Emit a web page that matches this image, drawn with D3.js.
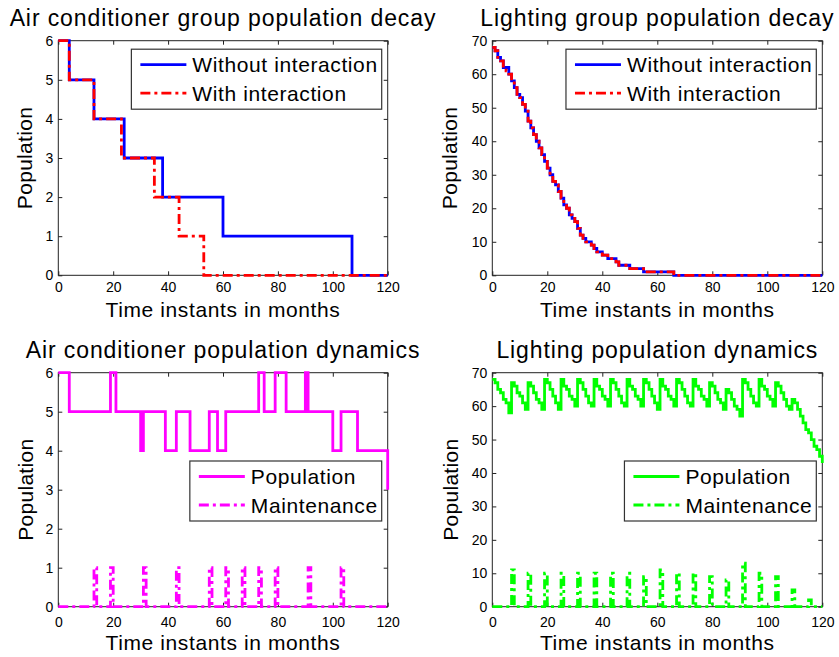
<!DOCTYPE html>
<html>
<head>
<meta charset="utf-8">
<script src="https://cdn.jsdelivr.net/npm/d3@7"></script>
<style>
body{margin:0;background:#fff;}
svg{display:block;font-family:Arial,"Liberation Sans",Helvetica,sans-serif;}
</style>
</head>
<body>
<div id="fig"></div>
<script>
//////////////////////////////////////////////////////////////////////
//Data
var xTicks = [0,20,40,60,80,100,120];
var acYTicks = [0,1,2,3,4,5,6];
var lightYTicks = [0,10,20,30,40,50,60,70];

// air conditioner group decay (change points, stairs)
var acNoIntT = [0,4,13,24,38,60,107,120];
var acNoIntV = [6,5,4,3,2,1,0,0];
var acIntT = [0,4,13,23,35,44,53,120];
var acIntV = [6,5,4,3,2,1,0,0];

// lighting group decay, one value per month from 0
var lightNoInt = [68,67,65,64,62,62,60,58,56,54,53,51,49,46,44,42,40,38,36,34,
  32,30,28,27,25,23,21,20,18,17,16,14,12,11,10,10,9,8,7,7,
  6,6,5,5,5,4,3,3,3,3,2,2,2,2,2,1,1,1,1,1,1,1,1,1,1,1,0];
var lightInt = [68,67,65,64,62,61,60,58,56,54,53,51,49,46,44,42,40,38,36,34,
  32,30,28,27,25,23,22,20,18,17,16,14,12,11,10,10,9,8,7,7,
  6,6,5,5,5,4,3,3,3,3,2,2,2,2,2,1,1,1,1,1,1,1,1,1,1,1,0];

// air conditioner dynamics (change points)
var acPopT = [0,4,19,21,30,31,39,43,48,55,58,61,73,75,79,83,90,91,100,103,109,120];
var acPopV = [6,5,6,5,4,5,4,5,4,5,4,5,6,5,6,5,6,5,4,5,4,3];
var acMaintT = [13,19,31,43,55,61,67,73,79,91,103];
var acMaintV = [1,1,1,1,1,1,1,1,1,1,1];

// lighting dynamics, one value per month from 0
var lightPop = [68,67,65,64,62,61,58,
  67,66,64,63,61,59,
  67,66,64,62,61,59,
  68,67,65,63,61,59,
  68,66,65,63,62,60,
  68,67,65,63,61,60,
  68,66,65,63,62,60,
  68,67,65,63,61,60,
  68,66,65,63,62,60,
  68,67,65,63,61,59,
  68,66,65,63,62,60,
  68,67,65,63,61,60,
  68,66,65,63,62,60,
  67,66,64,62,61,59,
  65,64,62,60,59,57,
  68,67,65,63,61,60,
  68,66,65,63,62,60,
  67,66,64,62,60,59,
  62,61,59,57,55,53,52,50,48,47,45,43];
var lightMaintT = [7,13,19,25,31,37,43,49,55,61,67,73,79,85,91,97,103,109,115];
var lightMaintV = [11,10,10,10,10,10,10,10,9,11,10,10,9,8,13,10,9,5,2];

//////////////////////////////////////////////////////////////////////
//Helpers
function stepPts(t, v){
  return t.map(function(d,i){ return [d, v[i]]; });
}
function monthPts(v, endT){
  var p = v.map(function(d,i){ return [i, d]; });
  if(endT != null && p[p.length-1][0] < endT){ p.push([endT, v[v.length-1]]); }
  return p;
}
function spikePts(t, v, endT){
  var p = [[0,0]];
  t.forEach(function(d,i){ p.push([d, v[i]]); p.push([d+1, 0]); });
  p.push([endT, 0]);
  return p;
}

var svg = d3.select("#fig").append("svg")
  .attr("width", 839)
  .attr("height", 657);
svg.append("rect").attr("width",839).attr("height",657).attr("fill","#fff");

var DASHDOT = "10,4,3,4";

function drawPanel(p){
  var x = d3.scaleLinear().domain([0,120]).range([p.left, p.right]);
  var y = d3.scaleLinear().domain([0, p.yMax]).range([p.bottom, p.top]);
  var g = svg.append("g");

  //axes, ticks inside on all sides
  var ax = [
    [d3.axisBottom(x).tickValues(xTicks).tickFormat(d3.format("d")).tickPadding(p.xPad), "translate(0,"+p.bottom+")"],
    [d3.axisTop(x).tickValues(xTicks).tickFormat(""), "translate(0,"+p.top+")"],
    [d3.axisLeft(y).tickValues(p.yTicks).tickFormat(d3.format("d")).tickPadding(5), "translate("+p.left+",0)"],
    [d3.axisRight(y).tickValues(p.yTicks).tickFormat(""), "translate("+p.right+",0)"]
  ];
  ax.forEach(function(a){
    var s = g.append("g").attr("transform", a[1])
      .call(a[0].tickSizeInner(-4).tickSizeOuter(0));
    s.select(".domain").remove();
    s.selectAll("line").attr("stroke","#222");
    s.selectAll("text").attr("font-size",14).attr("font-family","Arial, Liberation Sans, sans-serif").attr("fill","#000");
  });
  g.append("rect")
    .attr("x", p.left).attr("y", p.top)
    .attr("width", p.right-p.left).attr("height", p.bottom-p.top)
    .attr("fill","none").attr("stroke","#222").attr("stroke-width",1);

  //lines
  var line = d3.line()
    .x(function(d){ return x(d[0]); })
    .y(function(d){ return y(d[1]); })
    .curve(d3.curveStepAfter);
  p.series.forEach(function(s){
    g.append("path").datum(s.pts)
      .attr("d", line)
      .attr("fill","none")
      .attr("stroke", s.color)
      .attr("stroke-width", 2.8)
      .attr("stroke-dasharray", s.dash ? DASHDOT : null);
  });

  //labels
  g.append("text")
    .attr("x", (p.left+p.right)/2).attr("y", p.top-14.5)
    .attr("text-anchor","middle")
    .attr("font-size",23).attr("letter-spacing",0.9)
    .text(p.title);
  g.append("text")
    .attr("x", (p.left+p.right)/2).attr("y", p.bottom+p.xLab)
    .attr("text-anchor","middle")
    .attr("font-size",21).attr("letter-spacing",0.6)
    .text("Time instants in months");
  g.append("text")
    .attr("transform","translate("+(p.left-p.yLab)+","+((p.top+p.bottom)/2)+") rotate(-90)")
    .attr("text-anchor","middle")
    .attr("font-size",21).attr("letter-spacing",0.3)
    .text("Population");

  //legend
  var lg = g.append("g");
  var box = lg.append("rect")
    .attr("fill","#fff").attr("stroke","#333").attr("stroke-width",1.2);
  var tw = 0;
  p.series.forEach(function(s,i){
    var t = lg.append("text")
      .attr("y", p.top + p.legTop + 15.5 + i*28.5 + 7.5)
      .attr("font-size",21).attr("letter-spacing",0.6)
      .text(s.name);
    tw = Math.max(tw, t.node().getComputedTextLength());
  });
  var bw = 9 + 46 + 6 + tw + 4, bx = p.right - 6 - bw;
  box.attr("x", bx).attr("y", p.top + p.legTop).attr("width", bw).attr("height", 60);
  lg.selectAll("text").attr("x", bx + 61);
  p.series.forEach(function(s,i){
    var ly = p.top + p.legTop + 15.5 + i*28.5;
    lg.append("line")
      .attr("x1", bx+9).attr("x2", bx+55)
      .attr("y1", ly).attr("y2", ly)
      .attr("stroke", s.color).attr("stroke-width", 2.8)
      .attr("stroke-dasharray", s.dash ? DASHDOT : null);
  });
}

drawPanel({
  left:58.3, right:387.7, top:40.7, bottom:275.3, yMax:6, yTicks:acYTicks,
  xPad:7, xLab:41.5, yLab:26.5, legTop:8.5,
  title:"Air conditioner group population decay",
  series:[
    {name:"Without interaction", color:"#0000ff", dash:false, pts:stepPts(acNoIntT, acNoIntV)},
    {name:"With interaction", color:"#ff0000", dash:true, pts:stepPts(acIntT, acIntV)}
  ]
});
drawPanel({
  left:492.3, right:822.3, top:40.7, bottom:275.3, yMax:70, yTicks:lightYTicks,
  xPad:7, xLab:41.5, yLab:35.5, legTop:8.5,
  title:"Lighting group population decay",
  series:[
    {name:"Without interaction", color:"#0000ff", dash:false, pts:monthPts(lightNoInt, 120)},
    {name:"With interaction", color:"#ff0000", dash:true, pts:monthPts(lightInt, 120)}
  ]
});
drawPanel({
  left:58.3, right:387.7, top:372.7, bottom:606.7, yMax:6, yTicks:acYTicks,
  xPad:10, xLab:43.5, yLab:25, legTop:88.3,
  title:"Air conditioner population dynamics",
  series:[
    {name:"Population", color:"#ff00ff", dash:false, pts:stepPts(acPopT, acPopV)},
    {name:"Maintenance", color:"#ff00ff", dash:true, pts:spikePts(acMaintT, acMaintV, 120)}
  ]
});
drawPanel({
  left:492.3, right:822.3, top:372.7, bottom:606.7, yMax:70, yTicks:lightYTicks,
  xPad:10, xLab:43.5, yLab:34, legTop:88.3,
  title:"Lighting population dynamics",
  series:[
    {name:"Population", color:"#00ff00", dash:false, pts:monthPts(lightPop, 120)},
    {name:"Maintenance", color:"#00ff00", dash:true, pts:spikePts(lightMaintT, lightMaintV, 120)}
  ]
});
</script>
</body>
</html>
